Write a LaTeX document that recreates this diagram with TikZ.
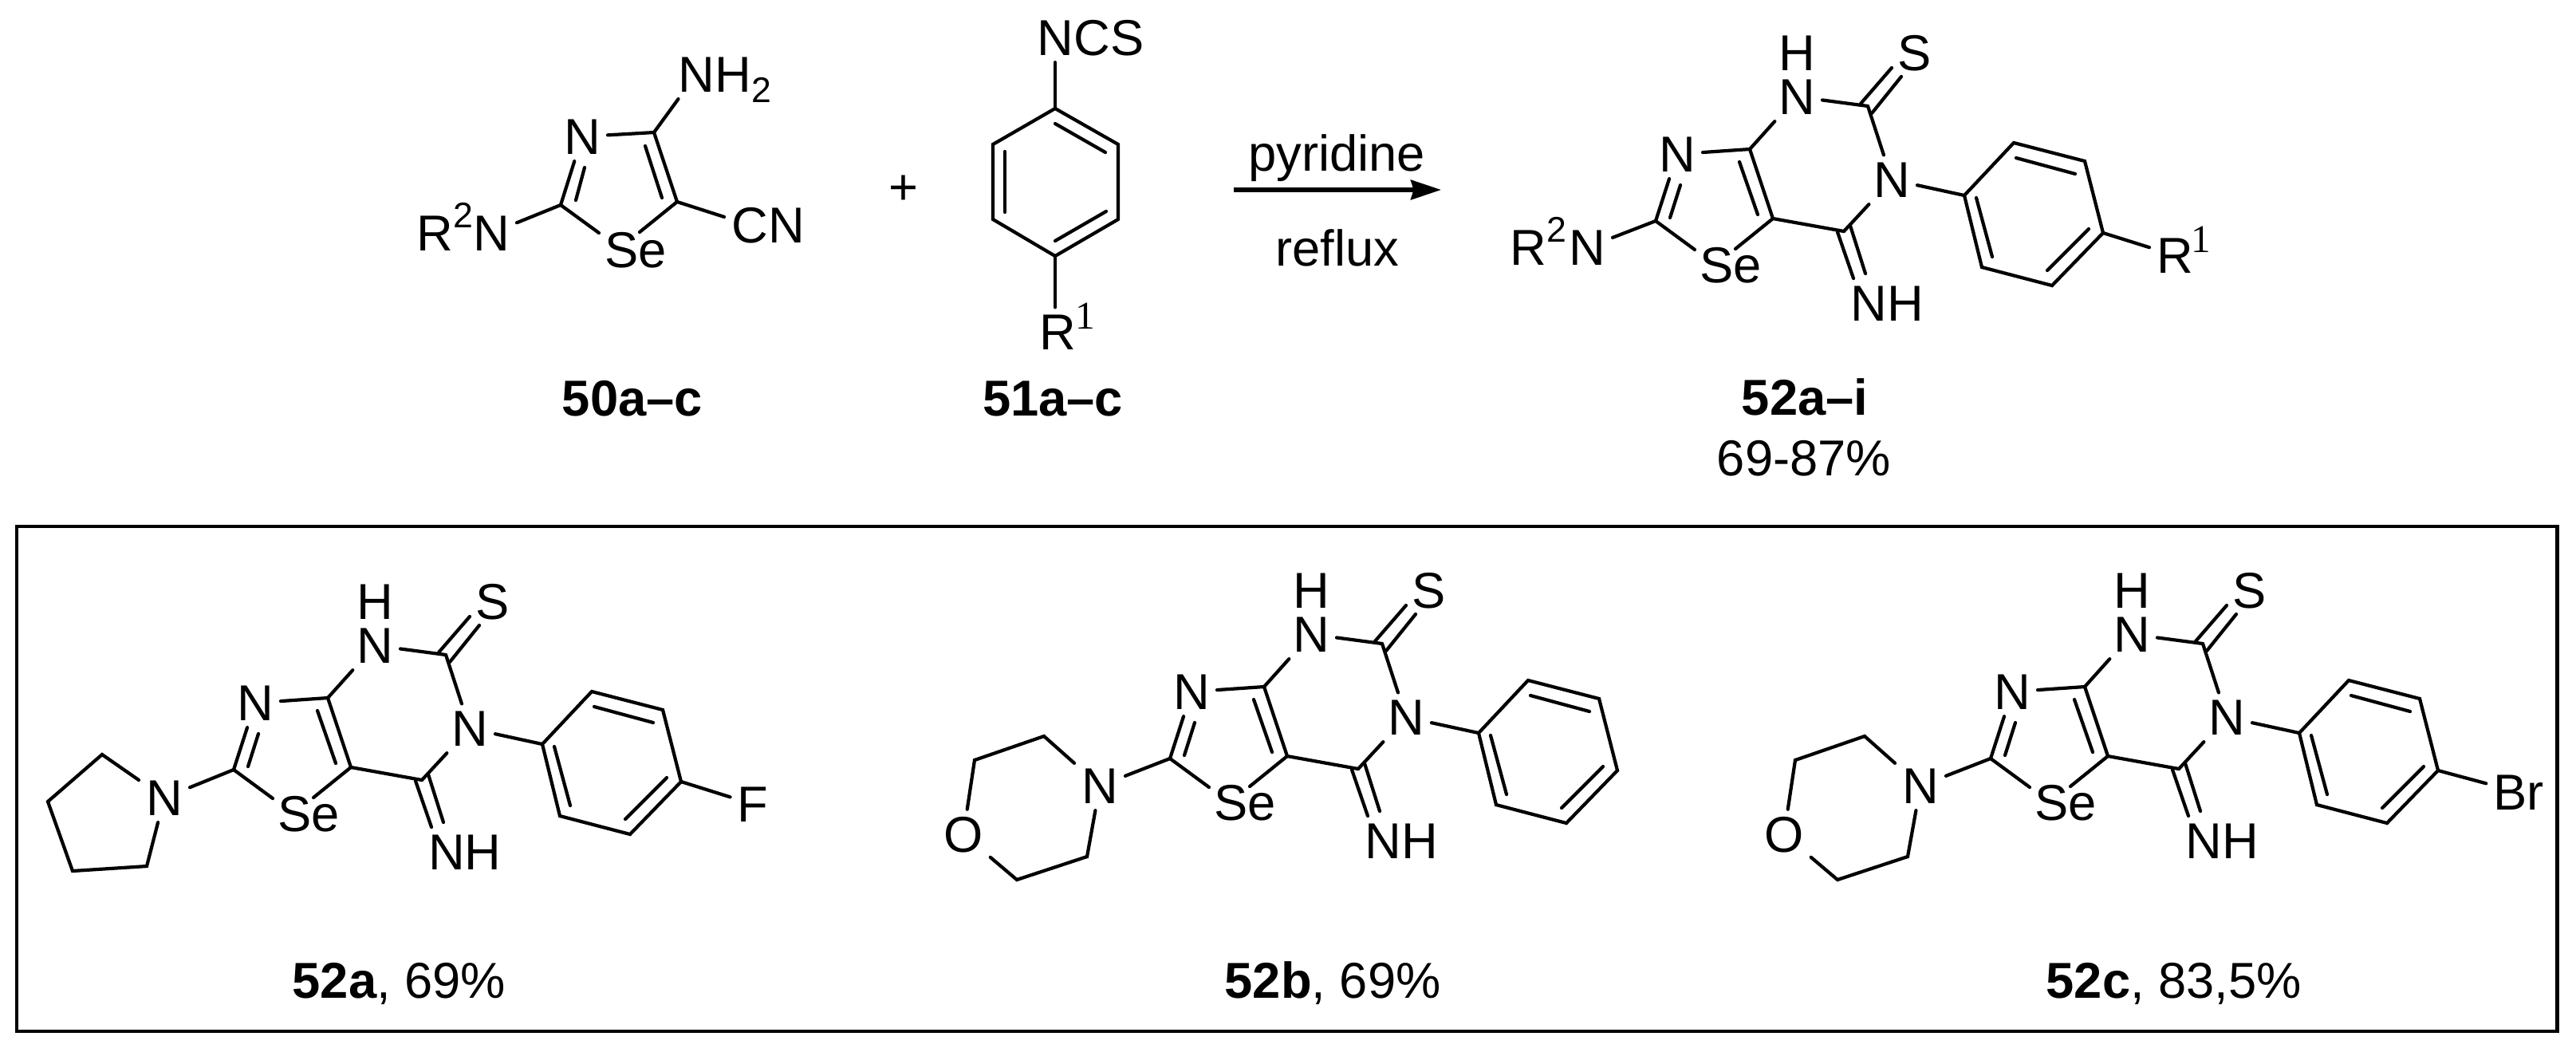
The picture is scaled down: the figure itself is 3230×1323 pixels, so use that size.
\documentclass[tikz,border=0pt]{standalone}
\usepackage{fontspec}
\setmainfont{Liberation Sans}
\newfontfamily\supserif{Liberation Serif}
\usetikzlibrary{arrows.meta}
\tikzset{
  bond/.style={line width=1.2pt,line cap=round,line join=miter},
  atom/.style={inner sep=2.4pt,anchor=base,font=\fontsize{18}{20}\selectfont},
  txt/.style={inner sep=0pt,anchor=base,font=\fontsize{18}{20}\selectfont},
  txtw/.style={inner sep=0pt,anchor=base west,font=\fontsize{18}{20}\selectfont},
  supone/.style={inner sep=0pt,anchor=base,font=\supserif\fontsize{14}{16}\selectfont},
}
\newcommand{\Rsup}{R\raisebox{8.2pt}{\fontsize{12.7}{14}\selectfont 2}}
% shared thiazolo-pyrimidine core with N-phenyl ring (coordinates of the 52a frame)
\newcommand{\fusedcore}{%
  \coordinate (A) at (411,875);
  \coordinate (B) at (440,962);
  \coordinate (C2) at (293,965);
  \coordinate (C7) at (559,821);
  \coordinate (C5) at (529,978);
  \coordinate (ip) at (680,933);
  \coordinate (v1) at (742,867);
  \coordinate (v2) at (831,890);
  \coordinate (v3) at (854,980);
  \coordinate (v4) at (790,1046);
  \coordinate (v5) at (702,1023);
  \coordinate (sl) at (342,1001);
  \coordinate (sr) at (393,1000);
  \node[atom] (Nt) at (320,903) {N};
  \node[atom] (Se) at (387,1042) {Se};
  \node[atom] (NHt) at (470,831) {N};
  \node[atom] (Ht) at (470,776) {H};
  \node[atom] (Nr) at (589,935) {N};
  \node[atom] (S) at (618,776) {S};
  \node[atom] (NHi) at (583,1090) {NH};
  \draw[bond] (Nt) -- (A);
  \draw[bond] (A) -- (B);
  \draw[bond] (Nt) -- (C2);
  \draw[bond] (C2) -- (sl);
  \draw[bond] (B) -- (sr);
  \draw[bond] (324,920) -- (311,961);
  \draw[bond] (398,891) -- (421,957);
  \draw[bond] (A) -- (NHt);
  \draw[bond] (NHt) -- (C7);
  \draw[bond] (C7) -- (Nr);
  \draw[bond] (Nr) -- (C5);
  \draw[bond] (C5) -- (B);
  \draw[bond] (550,818) -- (589,773);
  \draw[bond] (564,830) -- (601,784);
  \draw[bond] (521,979) -- (541,1037);
  \draw[bond] (537,971) -- (556,1031);
  \draw[bond] (Nr) -- (ip);
  \draw[bond] (ip) -- (v1) -- (v2) -- (v3) -- (v4) -- (v5) -- cycle;
  \draw[bond] (745,886) -- (819,906);
  \draw[bond] (836,975) -- (784,1027);
  \draw[bond] (695,936) -- (715,1010);
}
% morpholine ring, coordinates of the 52b frame shifted to the 52a frame
\newcommand{\morpholine}{%
  \node[atom] (Nm) at (205,1021) {N};
  \node[atom] (Om) at (34,1082) {O};
  \coordinate (m1) at (135,937);
  \coordinate (m2) at (48,967);
  \coordinate (m3) at (101,1117);
  \coordinate (m4) at (189,1088);
  \draw[bond] (C2) -- (Nm);
  \draw[bond] (Nm) -- (m1) -- (m2) -- (Om);
  \draw[bond] (Om) -- (m3) -- (m4) -- (Nm);
}
\begin{document}
\begin{tikzpicture}[x=0.01cm,y=-0.01cm]
\useasboundingbox (0,0) rectangle (3230,1323);
% ---------- 50 ----------
\coordinate (a4) at (820,166);
\coordinate (a5) at (849,253);
\coordinate (a2) at (703,257);
\coordinate (asl) at (751,292);
\coordinate (asr) at (802,291);
\node[atom] (aN) at (730,193) {N};
\node[atom] (aSe) at (797,335) {Se};
\node[atom] (aNa) at (873,115) {N};
\node[txtw] (aH) at (896,115) {H\raisebox{-3.7pt}{\fontsize{12.7}{14}\selectfont 2}};
\node[atom] (aC) at (940,304) {C};
\node[txtw] (aCN) at (963,304) {N};
\node[atom] (aRN) at (616,314) {N};
\node[txtw] (aR) at (522,314) {\Rsup};
\draw[bond] (aN) -- (a4);
\draw[bond] (a4) -- (a5);
\draw[bond] (aN) -- (a2);
\draw[bond] (733,210) -- (722,251);
\draw[bond] (809,183) -- (830,248);
\draw[bond] (a2) -- (asl);
\draw[bond] (a5) -- (asr);
\draw[bond] (a4) -- (aNa);
\draw[bond] (a5) -- (aC);
\draw[bond] (a2) -- (aRN);
\node[txt] (l50) at (793,521) {\textbf{50a–c}};
% ---------- plus ----------
\node[txt] (plus) at (1133,256) {+};
% ---------- 51 ----------
\coordinate (b1) at (1323,136);
\coordinate (b2) at (1402,181);
\coordinate (b3) at (1402,275);
\coordinate (b4) at (1323,321);
\coordinate (b5) at (1245,275);
\coordinate (b6) at (1245,181);
\node[atom] (bN) at (1323,69) {N};
\node[txtw] (bCS) at (1346,69) {CS};
\node[atom] (bR) at (1326,438) {R};
\node[supone] (bsup) at (1361,412) {1};
\draw[bond] (b1) -- (b2) -- (b3) -- (b4) -- (b5) -- (b6) -- cycle;
\draw[bond] (1323,155) -- (1386,191);
\draw[bond] (1260,190) -- (1260,266);
\draw[bond] (1387,265) -- (1323,302);
\draw[bond] (b1) -- (bN);
\draw[bond] (b4) -- (b4 |- bR.north);
\node[txt] (l51) at (1320,521) {\textbf{51a–c}};
% ---------- arrow ----------
\coordinate (arrS) at (1547,238);
\coordinate (arrE) at (1807,238);
\draw[line width=1.5pt,-{Stealth[length=10.8pt,width=7pt,inset=1pt]}] (arrS) -- (arrE);
\node[txt] (pyr) at (1676,214) {pyridine};
\node[txt] (ref) at (1677,333) {reflux};
% ---------- 52 general ----------
\begin{scope}[shift={(1783,-688)},name prefix=t-]
  \fusedcore
  \node[atom] (Nx) at (207,1020) {N};
  \node[txtw] (Rx) at (110,1020) {\Rsup};
  \draw[bond] (C2) -- (Nx);
  \node[atom] (Rp) at (944,1030) {R};
  \node[supone] (Rs) at (976.5,1004) {1};
  \draw[bond] (v3) -- (Rp);
\end{scope}
\node[txt] (l52) at (2263,520) {\textbf{52a–i}};
\node[txt] (y52) at (2262,596) {69-87\%};
% ---------- box ----------
\draw[line width=1.4pt] (21,660) rectangle (3206,1293);
% ---------- 52a ----------
\begin{scope}[name prefix=a-]
  \fusedcore
  \node[atom] (Np) at (206,1022) {N};
  \coordinate (p1) at (128,946);
  \coordinate (p2) at (60,1005);
  \coordinate (p3) at (91,1092);
  \coordinate (p4) at (184,1086);
  \draw[bond] (C2) -- (Np);
  \draw[bond] (Np) -- (p1) -- (p2) -- (p3) -- (p4) -- (Np);
  \node[atom] (F) at (944,1030) {F};
  \draw[bond] (v3) -- (F);
  \node[txtw] (la) at (366,1251) {\textbf{52a}, 69\%};
\end{scope}
% ---------- 52b ----------
\begin{scope}[shift={(1174,-14)},name prefix=b-]
  \fusedcore
  \morpholine
  \node[txtw] (lb) at (361,1265) {\textbf{52b}, 69\%};
\end{scope}
% ---------- 52c ----------
\begin{scope}[shift={(2203,-14)},name prefix=c-]
  \fusedcore
  \morpholine
  \node[atom] (Br) at (955,1029) {Br};
  \draw[bond] (v3) -- (Br);
  \node[txtw] (lc) at (362,1265) {\textbf{52c}, 83,5\%};
\end{scope}
\end{tikzpicture}
\end{document}
